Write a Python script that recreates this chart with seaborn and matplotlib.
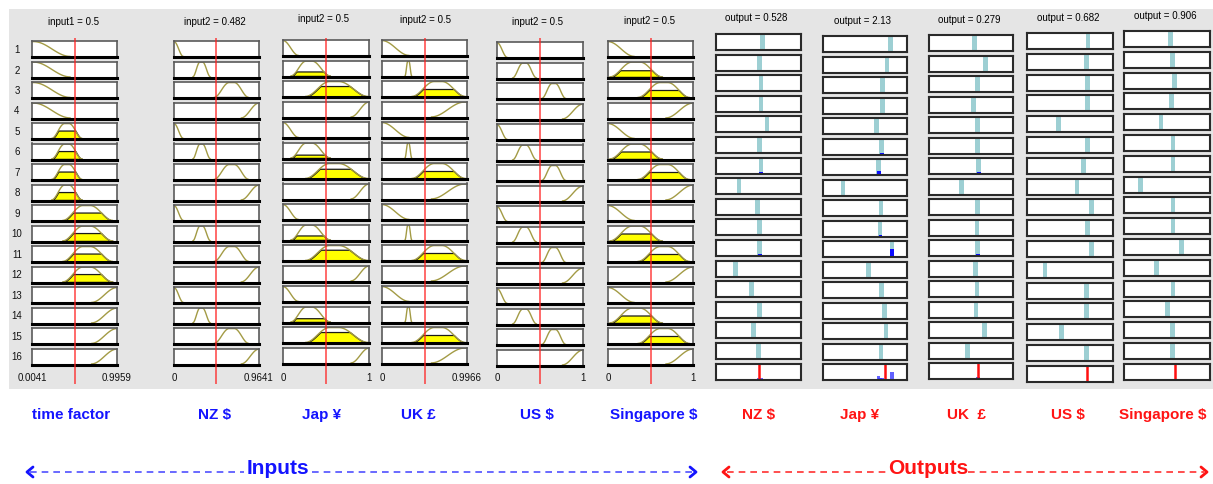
import numpy as np
import matplotlib
matplotlib.use("Agg")
import matplotlib.pyplot as plt
import seaborn as sns

# ---------------- data ----------------
input_names = ['time factor', 'NZ $', 'Jap ¥', 'UK £', 'US $', 'Singapore $']
input_titles = ['input1 = 0.5', 'input2 = 0.482', 'input2 = 0.5', 'input2 = 0.5', 'input2 = 0.5', 'input2 = 0.5']
input_values = [0.5, 0.482, 0.5, 0.5, 0.5, 0.5]
input_lo = [0.0041, 0, 0, 0, 0, 0]
input_hi = [0.9959, 0.9641, 1, 0.9966, 1, 1]
input_lo_labels = ['0.0041', '0', '0', '0', '0', '0']
input_hi_labels = ['0.9959', '0.9641', '1', '0.9966', '1', '1']

# membership functions (fraction of range): kind, left, centre, right
mf_time = [('z', 0.02, 0.02, 0.45), ('bell', 0.23, 0.41, 0.59), ('bell', 0.36, 0.64, 0.95), ('s', 0.70, 1.0, 1.0)]
mf_nz = [('z', 0.0, 0.0, 0.11), ('bell', 0.22, 0.32, 0.43), ('bell', 0.47, 0.68, 0.88), ('s', 0.79, 1.0, 1.0)]
mf_jap = [('z', 0.0, 0.0, 0.18), ('bell', 0.09, 0.30, 0.55), ('bell', 0.26, 0.59, 0.99), ('s', 0.79, 1.0, 1.0)]
mf_uk = [('z', 0.0, 0.0, 0.32), ('bell', 0.27, 0.31, 0.35), ('bell', 0.35, 0.66, 0.98), ('s', 0.58, 0.97, 0.97)]
mf_us = [('z', 0.0, 0.0, 0.12), ('bell', 0.18, 0.32, 0.46), ('bell', 0.52, 0.66, 0.80), ('s', 0.76, 1.0, 1.0)]
mf_sg = [('z', 0.0, 0.0, 0.31), ('bell', 0.02, 0.33, 0.64), ('bell', 0.35, 0.66, 0.96), ('s', 0.68, 1.0, 1.0)]
input_mfs = [mf_time, mf_nz, mf_jap, mf_uk, mf_us, mf_sg]

# which membership function each of the 16 rules uses
rules_time = [0, 0, 0, 0, 1, 1, 1, 1, 2, 2, 2, 2, 3, 3, 3, 3]
rules_other = [0, 1, 2, 3] * 4
input_rules = [rules_time] + [rules_other] * 5

# firing level drawn in yellow for each rule
fill_time = [0, 0, 0, 0, 0.53, 0.53, 0.53, 0.53, 0.53, 0.53, 0.53, 0.53, 0, 0, 0, 0]
fill_nz = [0, 0, 0.03, 0] * 4
fill_jap = [0, 0.3, 0.7, 0, 0, 0.22, 0.65, 0, 0, 0.3, 0.72, 0, 0, 0.25, 0.7, 0]
fill_uk = [0, 0, 0.5, 0] * 4
fill_us = [0] * 16
fill_sg = [0, 0.45, 0.5, 0, 0, 0.5, 0.5, 0, 0, 0.5, 0.5, 0, 0, 0.5, 0.5, 0]
input_fills = [fill_time, fill_nz, fill_jap, fill_uk, fill_us, fill_sg]

output_names = ['NZ $', 'Jap ¥', 'UK  £', 'US $', 'Singapore $']
output_titles = ['output = 0.528', 'output = 2.13', 'output = 0.279', 'output = 0.682', 'output = 0.906']
pos_nz = [0.55, 0.51, 0.53, 0.53, 0.60, 0.51, 0.53, 0.27, 0.49, 0.51, 0.51, 0.23, 0.42, 0.51, 0.44, 0.50]
pos_jap = [0.80, 0.76, 0.71, 0.71, 0.64, 0.70, 0.66, 0.24, 0.69, 0.68, 0.82, 0.54, 0.70, 0.73, 0.75, 0.69]
pos_uk = [0.54, 0.67, 0.58, 0.53, 0.58, 0.58, 0.59, 0.39, 0.58, 0.57, 0.58, 0.55, 0.57, 0.56, 0.66, 0.46]
pos_us = [0.71, 0.69, 0.70, 0.70, 0.37, 0.70, 0.66, 0.58, 0.75, 0.70, 0.75, 0.21, 0.69, 0.69, 0.40, 0.69]
pos_sg = [0.54, 0.56, 0.59, 0.55, 0.43, 0.57, 0.57, 0.19, 0.57, 0.57, 0.67, 0.38, 0.57, 0.51, 0.56, 0.56]
output_pos = [pos_nz, pos_jap, pos_uk, pos_us, pos_sg]
output_result = [0.51, 0.74, 0.58, 0.70, 0.59]

fire_small = 0.06
fire_nz = [fire_small] * 6 + [0.12] + [fire_small] * 3 + [0.12] + [fire_small] * 5
fire_jap = [fire_small] * 5 + [0.1, 0.22, fire_small, fire_small, 0.12, 0.5] + [fire_small] * 5
fire_uk = [fire_small] * 6 + [0.12] + [fire_small] * 3 + [0.12] + [fire_small] * 5
fire_us = [fire_small] * 16
fire_sg = [fire_small] * 16
output_fire = [fire_nz, fire_jap, fire_uk, fire_us, fire_sg]

# ---------------- layout (pixels) ----------------
W, H = 1213, 485
in_left = [32, 174, 283, 382, 497, 608]
in_right = [117, 259, 369, 467, 583, 693]
in_top = [42, 42, 41, 41, 43, 42]
in_title_xy = [(73, 22), (215, 22), (323, 19), (425, 20), (538, 22), (649, 21)]
out_left = [716, 823, 929, 1027, 1124]
out_right = [801, 907, 1013, 1113, 1210]
out_top = [35, 37, 36, 34, 32]
out_pitch = [20.6, 20.5, 20.5, 20.8, 20.8]
out_title_xy = [(756, 18), (863, 21), (969, 20), (1068, 18), (1165, 16)]
in_pitch = 20.5
box_h = 16
name_x_in = [71, 215, 322, 418, 537, 654]
name_x_out = [759, 860, 966, 1068, 1163]

olive = '#a39b45'
yellow = '#ffff00'
cyan = '#9dcfd3'
gray_bg = '#e5e5e5'

sns.set_theme(style='white')
plt.rcParams['font.family'] = ['Liberation Sans', 'DejaVu Sans']

fig = plt.figure(figsize=(W / 100, H / 100), dpi=100)


def px_axes(left, top, w, h, z=1):
    return fig.add_axes([left / W, 1 - (top + h) / H, w / W, h / H], zorder=z)


def style_box(ax):
    ax.set_xticks([])
    ax.set_yticks([])
    ax.set_facecolor('white')
    for s in ax.spines.values():
        s.set_visible(True)
        s.set_color('#5a5a5a')
        s.set_linewidth(1.2)
    ax.spines['bottom'].set_color('black')
    ax.spines['bottom'].set_linewidth(2.2)


def mf_curve(kind, a, c, b):
    if kind == 'z':
        x = np.linspace(0, b, 80)
        y = np.where(x <= a, 1.0, 0.5 * (1 + np.cos(np.pi * (x - a) / max(b - a, 1e-6))))
    elif kind == 's':
        x = np.linspace(a, 1, 80)
        y = np.where(x >= c, 1.0, 0.5 * (1 - np.cos(np.pi * (x - a) / max(c - a, 1e-6))))
    else:
        x = np.linspace(a, b, 120)
        t = np.where(x < c, (c - x) / (c - a), (x - c) / (b - c))
        t = np.clip((t - 0.15) / 0.85, 0, 1)  # small flat top, like a bell mf
        y = 0.5 * (1 + np.cos(np.pi * t))
    return x, y


# grey background
bg = fig.add_axes([9 / W, 1 - 390 / H, 1204 / W, 380 / H], zorder=0)
bg.set_facecolor(gray_bg)
bg.set_xticks([])
bg.set_yticks([])
for s in bg.spines.values():
    s.set_visible(False)

# ---------------- input columns ----------------
for i in range(6):
    lo, hi = input_lo[i], input_hi[i]
    width = in_right[i] - in_left[i]
    for r in range(16):
        top = in_top[i] + r * in_pitch
        ax = px_axes(in_left[i], top, width, box_h, z=2)
        kind, a, c, b = input_mfs[i][input_rules[i][r]]
        xs, ys = mf_curve(kind, a, c, b)
        xs = lo + xs * (hi - lo)
        level = input_fills[i][r]
        if level > 0:
            ax.fill_between(xs, 0, np.minimum(ys, level), facecolor=yellow,
                            edgecolor='#1a1a1a', linewidth=0.9, zorder=1)
        sns.lineplot(x=xs, y=ys, ax=ax, color=olive, linewidth=1.0, legend=False, zorder=2)
        ax.set_xlim(lo, hi)
        ax.set_ylim(-0.04, 1.04)
        style_box(ax)
        ax.set_xlabel('')
        ax.set_ylabel('')
    # red line at the input value
    ov = px_axes(in_left[i], 39, width, 346, z=3)
    ov.axvline(input_values[i], color='#ff2020', linewidth=1.1, alpha=0.85)
    ov.set_xlim(lo, hi)
    ov.axis('off')
    ov.patch.set_alpha(0)

# ---------------- output columns ----------------
for j in range(5):
    width = out_right[j] - out_left[j]
    for r in range(17):
        top = out_top[j] + r * out_pitch[j]
        ax = px_axes(out_left[j], top, width, box_h, z=2)
        if r < 16:
            p = output_pos[j][r]
            f = output_fire[j][r]
            ax.bar([p], [1.0], width=0.055, color=cyan, linewidth=0)
            ax.bar([p + 0.004], [f], width=0.015 if f < 0.08 else 0.045, color='#0a0aff', linewidth=0)
        else:
            for p, f in zip(output_pos[j], output_fire[j]):
                ax.bar([p], [f], width=0.015 if f < 0.08 else 0.045, color='#3a3aff', linewidth=0, alpha=0.8)
            ax.axvline(output_result[j], color='#ff1010', linewidth=1.8)
        ax.set_xlim(0, 1)
        ax.set_ylim(0, 1)
        style_box(ax)
        for s in ax.spines.values():
            s.set_color('#2a2a2a')
            s.set_linewidth(1.5)

# ---------------- text / annotation layer ----------------
tx = fig.add_axes([0, 0, 1, 1], zorder=10)
tx.set_xlim(0, W)
tx.set_ylim(H, 0)
tx.axis('off')
tx.patch.set_alpha(0)

small = 7
for i in range(6):
    tx.text(*in_title_xy[i], input_titles[i], ha='center', va='center', fontsize=small, color='black')
    tx.text(in_left[i], 378, input_lo_labels[i], ha='center', va='center', fontsize=small, color='#111111')
    tx.text(in_right[i], 378, input_hi_labels[i], ha='center', va='center', fontsize=small, color='#111111')
    tx.text(name_x_in[i], 415, input_names[i], ha='center', va='center', fontsize=11,
            fontweight='bold', color='#1414ff')
for r in range(16):
    tx.text(17, in_top[0] + r * in_pitch + box_h / 2, str(r + 1), ha='center', va='center',
            fontsize=small, color='#111111')
for j in range(5):
    tx.text(*out_title_xy[j], output_titles[j], ha='center', va='center', fontsize=small, color='black')
    tx.text(name_x_out[j], 415, output_names[j], ha='center', va='center', fontsize=11,
            fontweight='bold', color='#ff1414')

# inputs / outputs arrows
y_ar = 473
tx.plot([30, 244], [y_ar, y_ar], color='#5050ff', linewidth=1.2, dashes=(4, 3))
tx.plot([312, 692], [y_ar, y_ar], color='#5050ff', linewidth=1.2, dashes=(4, 3))
tx.plot([33, 27, 33], [y_ar - 5, y_ar, y_ar + 5], color='#1414ff', linewidth=2)
tx.plot([690, 696, 690], [y_ar - 5, y_ar, y_ar + 5], color='#1414ff', linewidth=2)
tx.text(278, 469, 'Inputs', ha='center', va='center', fontsize=15, fontweight='bold', color='#1414ff')

tx.plot([727, 888], [y_ar, y_ar], color='#ff3030', linewidth=1.2, dashes=(4, 3))
tx.plot([968, 1204], [y_ar, y_ar], color='#ff3030', linewidth=1.2, dashes=(4, 3))
tx.plot([729, 723, 729], [y_ar - 5, y_ar, y_ar + 5], color='#ff1414', linewidth=2)
tx.plot([1201, 1207, 1201], [y_ar - 5, y_ar, y_ar + 5], color='#ff1414', linewidth=2)
tx.text(928, 469, 'Outputs', ha='center', va='center', fontsize=15, fontweight='bold', color='#ff1414')

fig.savefig('out.png', dpi=100, facecolor='white')
